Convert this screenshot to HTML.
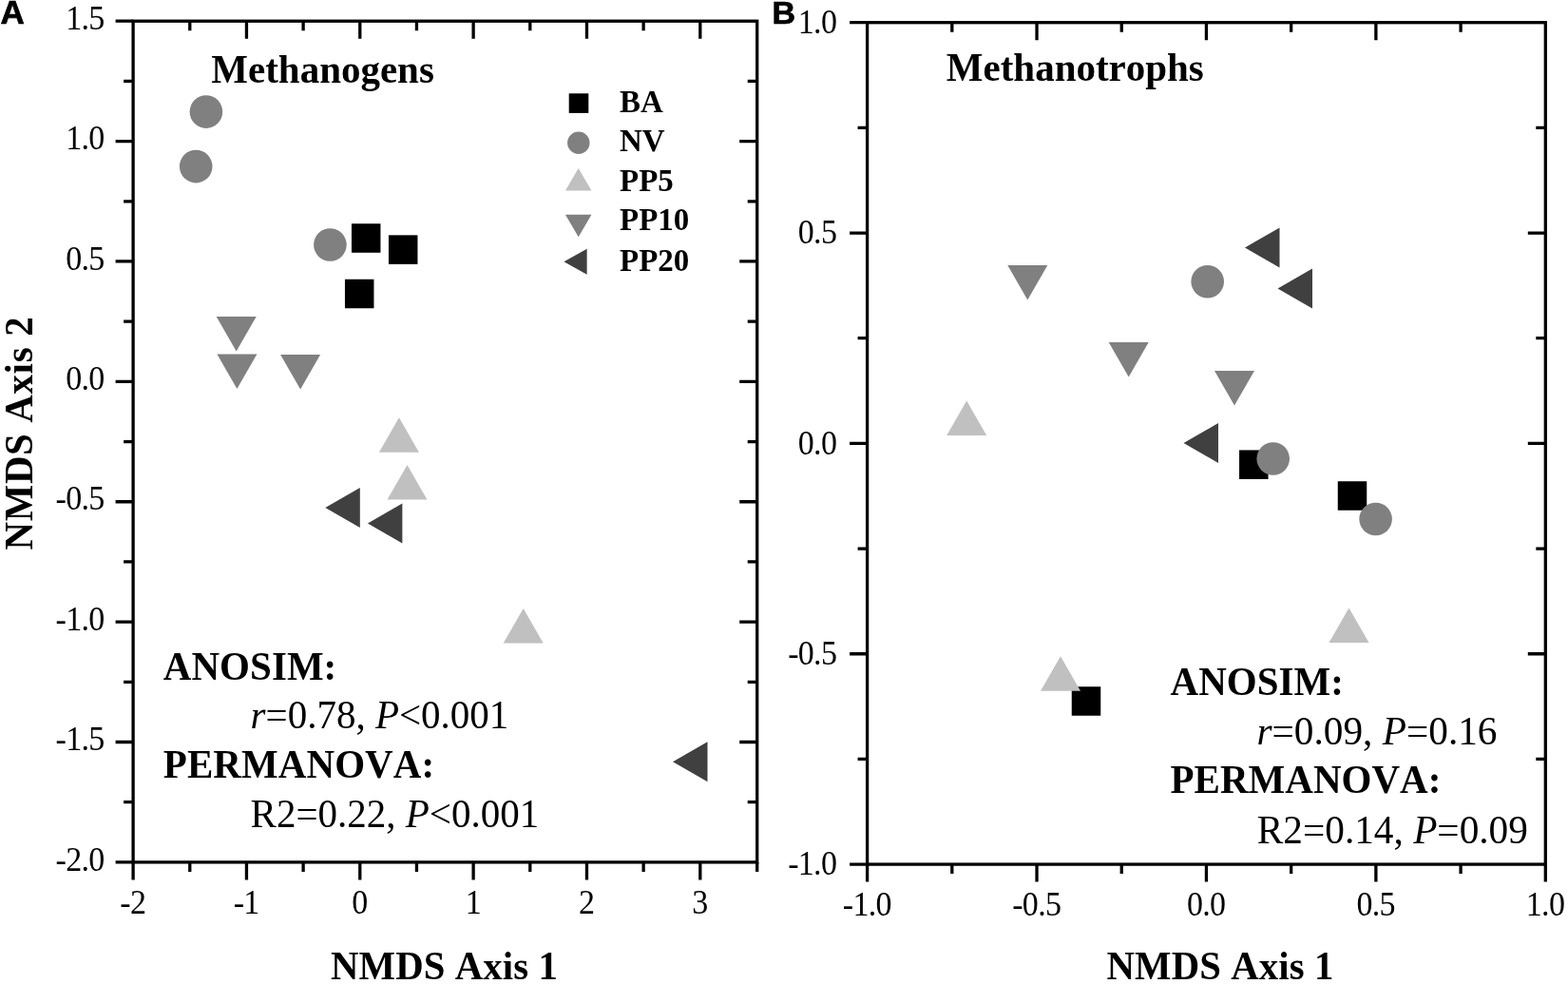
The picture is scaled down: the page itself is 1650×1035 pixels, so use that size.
<!DOCTYPE html>
<html lang="en"><head><meta charset="utf-8"><title>NMDS ordination of methanogens and methanotrophs</title>
<style>
html,body{margin:0;padding:0;background:#fff;}
body{width:1650px;height:1035px;overflow:hidden;}
svg{display:block;}
.ax{stroke:#000;stroke-width:3.3;fill:none;stroke-linecap:butt;stroke-linejoin:miter;}
text{font-kerning:none;}
.tk{font-family:"Liberation Serif", "DejaVu Serif", serif;font-size:34px;letter-spacing:-0.7px;fill:#000;}
.b{font-family:"Liberation Serif", "DejaVu Serif", serif;font-weight:bold;fill:#000;}
.r{font-family:"Liberation Serif", "DejaVu Serif", serif;fill:#000;}
.pl{font-family:"Liberation Sans", "DejaVu Sans", sans-serif;font-weight:bold;fill:#000;stroke:#000;stroke-width:0.7px;}
.i{font-style:italic;}
.ba{fill:#000;}.nv{fill:#808080;}.p5{fill:#c0c0c0;}.p10{fill:#808080;}.p20{fill:#404040;}
</style></head><body>
<svg width="1650" height="1035" viewBox="0 0 1650 1035" role="img" aria-label="NMDS ordination plots">
<rect x="0" y="0" width="1650" height="1035" fill="#fff"/>
<!-- Panel A -->
<g class="ax">
<rect x="140.1" y="22.2" width="656.6" height="884.7"/>
<path d="M140.1 906.9 v18.5 M199.77 906.9 v10 M199.77 22.2 v10 M259.44 906.9 v18.5 M259.44 22.2 v18.5 M319.11 906.9 v10 M319.11 22.2 v10 M378.78 906.9 v18.5 M378.78 22.2 v18.5 M438.45 906.9 v10 M438.45 22.2 v10 M498.12 906.9 v18.5 M498.12 22.2 v18.5 M557.79 906.9 v10 M557.79 22.2 v10 M617.46 906.9 v18.5 M617.46 22.2 v18.5 M677.13 906.9 v10 M677.13 22.2 v10 M736.8 906.9 v18.5 M736.8 22.2 v18.5 M796.7 906.9 v10 M140.1 22.2 h-18.5 M140.1 85.39 h-10 M796.7 85.39 h-10 M140.1 148.59 h-18.5 M796.7 148.59 h-18.5 M140.1 211.78 h-10 M796.7 211.78 h-10 M140.1 274.97 h-18.5 M796.7 274.97 h-18.5 M140.1 338.16 h-10 M796.7 338.16 h-10 M140.1 401.36 h-18.5 M796.7 401.36 h-18.5 M140.1 464.55 h-10 M796.7 464.55 h-10 M140.1 527.74 h-18.5 M796.7 527.74 h-18.5 M140.1 590.94 h-10 M796.7 590.94 h-10 M140.1 654.13 h-18.5 M796.7 654.13 h-18.5 M140.1 717.32 h-10 M796.7 717.32 h-10 M140.1 780.51 h-18.5 M796.7 780.51 h-18.5 M140.1 843.71 h-10 M796.7 843.71 h-10 M140.1 906.9 h-18.5"/>
</g>
<g class="tk" text-anchor="middle">
<text transform="translate(139.8 960.8) scale(1 1.04)">-2</text>
<text transform="translate(259.14 960.8) scale(1 1.04)">-1</text>
<text transform="translate(378.48 960.8) scale(1 1.04)">0</text>
<text transform="translate(497.82 960.8) scale(1 1.04)">1</text>
<text transform="translate(617.16 960.8) scale(1 1.04)">2</text>
<text transform="translate(736.5 960.8) scale(1 1.04)">3</text>
</g>
<g class="tk" text-anchor="end">
<text transform="translate(109.6 30.8) scale(1 1.04)">1.5</text>
<text transform="translate(109.6 157.19) scale(1 1.04)">1.0</text>
<text transform="translate(109.6 283.57) scale(1 1.04)">0.5</text>
<text transform="translate(109.6 409.96) scale(1 1.04)">0.0</text>
<text transform="translate(109.6 536.34) scale(1 1.04)">-0.5</text>
<text transform="translate(109.6 662.73) scale(1 1.04)">-1.0</text>
<text transform="translate(109.6 789.11) scale(1 1.04)">-1.5</text>
<text transform="translate(109.6 915.5) scale(1 1.04)">-2.0</text>
</g>
<text class="pl" x="0.4" y="25.2" font-size="35">A</text>
<text class="b" font-size="41" transform="translate(222.3 86.6) scale(1 1.020)">Methanogens</text>
<g>
<rect class="ba" x="598.7" y="98.3" width="20.6" height="20.6"/>
<circle class="nv" cx="608.8" cy="150.3" r="11.7"/>
<polygon class="p5" points="608.7,177 622.45,200.5 594.95,200.5"/>
<polygon class="p10" points="608.7,249.2 622.45,225.7 594.95,225.7"/>
<polygon class="p20" points="593.4,275.3 617.6,261.8 617.6,288.8"/>
</g>
<text class="b" font-size="33" transform="translate(652 118) scale(1 1.035)">BA</text>
<text class="b" font-size="33" transform="translate(652 159.3) scale(1 1.035)">NV</text>
<text class="b" font-size="33" transform="translate(652 201.1) scale(1 1.035)">PP5</text>
<text class="b" font-size="33" transform="translate(652 242.4) scale(1 1.035)">PP10</text>
<text class="b" font-size="33" transform="translate(652 284.5) scale(1 1.035)">PP20</text>
<g>
<rect class="ba" x="369.95" y="235.25" width="30.5" height="30.5"/>
<rect class="ba" x="408.95" y="247.35" width="30.5" height="30.5"/>
<rect class="ba" x="362.95" y="293.75" width="30.5" height="30.5"/>
<circle class="nv" cx="216.9" cy="117.6" r="17.3"/>
<circle class="nv" cx="206.2" cy="175.1" r="17.3"/>
<circle class="nv" cx="347.4" cy="257.5" r="17.3"/>
<polygon class="p5" points="419.9,439.2 440.9,475.7 398.9,475.7"/>
<polygon class="p5" points="428.5,489.1 449.5,525.6 407.5,525.6"/>
<polygon class="p5" points="550.7,640.1 571.7,676.6 529.7,676.6"/>
<polygon class="p10" points="248.7,369.4 269.7,332.9 227.7,332.9"/>
<polygon class="p10" points="249.4,408.9 270.4,372.4 228.4,372.4"/>
<polygon class="p10" points="316.1,409.4 337.1,372.9 295.1,372.9"/>
<polygon class="p20" points="342.3,534 378.8,513 378.8,555"/>
<polygon class="p20" points="386.9,550.5 423.4,529.5 423.4,571.5"/>
<polygon class="p20" points="708,801.2 744.5,780.2 744.5,822.2"/>
</g>
<text class="b" font-size="41" letter-spacing="0.05" transform="translate(171.8 714.8) scale(1 1.045)">ANOSIM:</text>
<text class="r" font-size="41" transform="translate(263.6 766.2) scale(1 1.025)"><tspan class="i">r</tspan>=0.78, <tspan class="i">P</tspan>&lt;0.001</text>
<text class="b" font-size="41" letter-spacing="0.08" transform="translate(171.8 817.5) scale(1 1.045)">PERMANOVA:</text>
<text class="r" font-size="41" transform="translate(263.6 870) scale(1 1.025)">R2=0.22, <tspan class="i">P</tspan>&lt;0.001</text>
<text class="b" font-size="40.8" letter-spacing="0.1" text-anchor="middle" transform="translate(467.5 1029.8) scale(1 1.045)">NMDS Axis 1</text>
<text class="b" font-size="40.8" letter-spacing="0.7" text-anchor="middle" transform="translate(33.7 455.6) rotate(-90) scale(1 1.045)">NMDS Axis 2</text>
<!-- Panel B -->
<g class="ax">
<rect x="912.6" y="23.7" width="713.7" height="885.4"/>
<path d="M912.6 909.1 v18.5 M1001.81 909.1 v10 M1001.81 23.7 v10 M1091.03 909.1 v18.5 M1091.03 23.7 v18.5 M1180.24 909.1 v10 M1180.24 23.7 v10 M1269.45 909.1 v18.5 M1269.45 23.7 v18.5 M1358.66 909.1 v10 M1358.66 23.7 v10 M1447.88 909.1 v18.5 M1447.88 23.7 v18.5 M1537.09 909.1 v10 M1537.09 23.7 v10 M1626.3 909.1 v18.5 M912.6 23.7 h-18.5 M912.6 134.38 h-10 M1626.3 134.38 h-10 M912.6 245.05 h-18.5 M1626.3 245.05 h-18.5 M912.6 355.72 h-10 M1626.3 355.72 h-10 M912.6 466.4 h-18.5 M1626.3 466.4 h-18.5 M912.6 577.08 h-10 M1626.3 577.08 h-10 M912.6 687.75 h-18.5 M1626.3 687.75 h-18.5 M912.6 798.43 h-10 M1626.3 798.43 h-10 M912.6 909.1 h-18.5"/>
</g>
<g class="tk" text-anchor="middle">
<text transform="translate(912.3 963.2) scale(1 1.04)">-1.0</text>
<text transform="translate(1090.73 963.2) scale(1 1.04)">-0.5</text>
<text transform="translate(1269.15 963.2) scale(1 1.04)">0.0</text>
<text transform="translate(1447.58 963.2) scale(1 1.04)">0.5</text>
<text transform="translate(1626 963.2) scale(1 1.04)">1.0</text>
</g>
<g class="tk" text-anchor="end">
<text transform="translate(880.2 35) scale(1 1.04)">1.0</text>
<text transform="translate(880.2 256.35) scale(1 1.04)">0.5</text>
<text transform="translate(880.2 477.7) scale(1 1.04)">0.0</text>
<text transform="translate(880.2 699.05) scale(1 1.04)">-0.5</text>
<text transform="translate(880.2 920.4) scale(1 1.04)">-1.0</text>
</g>
<text class="pl" x="812.4" y="25.2" font-size="34">B</text>
<text class="b" font-size="41" transform="translate(995.8 84.5) scale(1 1.020)">Methanotrophs</text>
<g>
<rect class="ba" x="1304.05" y="473.45" width="30.5" height="30.5"/>
<rect class="ba" x="1407.75" y="506.25" width="30.5" height="30.5"/>
<rect class="ba" x="1127.75" y="722.25" width="30.5" height="30.5"/>
<circle class="nv" cx="1270.7" cy="296.2" r="17.3"/>
<circle class="nv" cx="1339.7" cy="482.5" r="17.3"/>
<circle class="nv" cx="1447.6" cy="546" r="17.3"/>
<polygon class="p5" points="1017.2,421.5 1038.2,458 996.2,458"/>
<polygon class="p5" points="1116,690.3 1137,726.8 1095,726.8"/>
<polygon class="p5" points="1419.5,639.6 1440.5,676.1 1398.5,676.1"/>
<polygon class="p10" points="1081.3,315.5 1102.3,279 1060.3,279"/>
<polygon class="p10" points="1187.7,396.5 1208.7,360 1166.7,360"/>
<polygon class="p10" points="1299,426.5 1320,390 1278,390"/>
<polygon class="p20" points="1310,260.4 1346.5,239.4 1346.5,281.4"/>
<polygon class="p20" points="1344.5,303.5 1381,282.5 1381,324.5"/>
<polygon class="p20" points="1245.5,466 1282,445 1282,487"/>
</g>
<text class="b" font-size="41" letter-spacing="0.05" transform="translate(1231.5 730.7) scale(1 1.045)">ANOSIM:</text>
<text class="r" font-size="41.3" transform="translate(1322.5 782.8) scale(1 1.025)"><tspan class="i">r</tspan>=0.09, <tspan class="i">P</tspan>=0.16</text>
<text class="b" font-size="41" letter-spacing="0.03" transform="translate(1231.5 834) scale(1 1.045)">PERMANOVA:</text>
<text class="r" font-size="41.3" transform="translate(1322.8 886.5) scale(1 1.025)">R2=0.14, <tspan class="i">P</tspan>=0.09</text>
<text class="b" font-size="40.8" letter-spacing="0.1" text-anchor="middle" transform="translate(1284 1029.8) scale(1 1.045)">NMDS Axis 1</text>
</svg>
</body></html>
